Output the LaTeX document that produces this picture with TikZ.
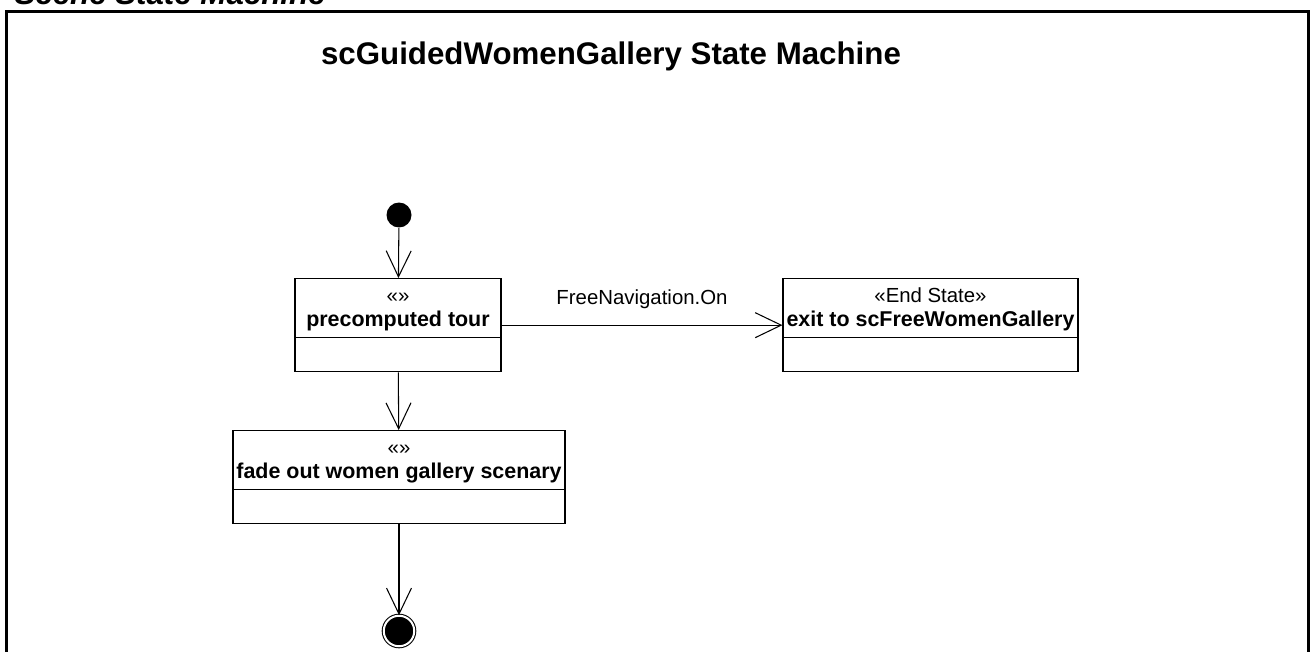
\documentclass[tikz,border=0pt]{standalone}
\usepackage{fontspec}
\setmainfont{Liberation Sans}
\usetikzlibrary{shapes,arrows.meta}

\newcommand{\statetext}[2]{\begin{tabular}{@{}c@{}}\rule{0pt}{13pt}#1\\{\bfseries\fontsize{12.2}{13.9}\selectfont #2}\rule[-6pt]{0pt}{0pt}\end{tabular}}

\begin{document}
\begin{tikzpicture}[x=0.02cm,y=-0.02cm,line width=0.6pt]
\tikzstyle{umlstate}=[rectangle split,rectangle split parts=2,draw,line width=0.7pt,inner sep=0pt,minimum width=#1,font=\fontsize{11.6}{13.9}\selectfont]
\tikzstyle{trans}=[-{Straight Barb[length=0.52cm,width=0.5cm]}]
\tikzstyle{tlabel}=[font=\fontsize{11.6}{13.9}\selectfont,inner sep=0pt,above=0.32cm,midway]
\tikzstyle{bigtitle}=[font=\bfseries\fontsize{17.8}{21}\selectfont]
\useasboundingbox (0,0) rectangle (1311,652);
\clip (0,0) rectangle (1311,652);

\node[bigtitle,font=\bfseries\itshape\fontsize{17.8}{21}\selectfont,anchor=base west,inner sep=0pt] (scene) at (14,5) {Scene State Machine};
\draw[line width=0.06cm] (6.5,11.5) rectangle (1308.5,720);
\node[bigtitle] (title) at (611,56) {scGuidedWomenGallery State Machine};

\node[circle,fill=black,minimum size=0.5cm,inner sep=0pt] (init) at (399,215) {};
\node[umlstate=4.12cm,anchor=north](tour) at (398,278) {\statetext{«»}{precomputed tour} \nodepart{two} \rule{0pt}{18.7pt}};
\node[umlstate=5.9cm,anchor=north](exit) at (930.5,278) {\statetext{«End State»}{exit to scFreeWomenGallery} \nodepart{two} \rule{0pt}{18.7pt}};
\node[umlstate=6.64cm,anchor=north](fade) at (399,430) {\statetext{«»}{fade out women gallery scenary} \nodepart{two} \rule{0pt}{18.7pt}};
\node[circle,draw,fill=black,double=white,double distance=0.04cm,minimum size=0.61cm,inner sep=0pt] (final) at (399,631) {};

\path (init) edge[trans] (tour) % transitions
      (tour) edge[trans] node[tlabel] {FreeNavigation.On} (exit)
      (tour) edge[trans] (fade)
      (fade) edge[trans] (final);

\end{tikzpicture}
\end{document}
